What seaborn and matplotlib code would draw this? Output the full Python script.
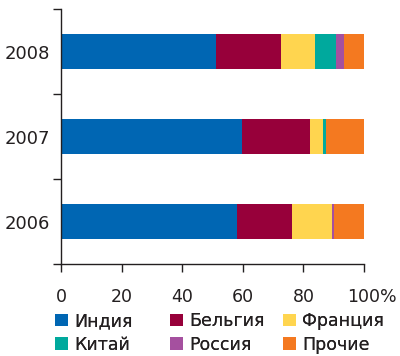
import numpy as np
import pandas as pd
import seaborn as sns
import matplotlib
matplotlib.use("Agg")
import matplotlib.pyplot as plt
from matplotlib.patches import Patch
from matplotlib.transforms import ScaledTranslation

# ---- data ----
years = ['2008', '2007', '2006']
india = [51.2, 59.6, 58.0]
belgium = [21.3, 22.7, 18.2]
france = [11.3, 4.3, 13.2]
china = [7.0, 0.7, 0.0]
russia = [2.5, 0.0, 0.7]
others = [6.7, 12.7, 9.9]
series_names = ['Индия', 'Бельгия', 'Франция', 'Китай', 'Россия', 'Прочие']
colors = ['#0066b3', '#97003a', '#ffd54f', '#00a99d', '#a5509f', '#f47920']
x_ticks = [0, 20, 40, 60, 80, 100]
x_labels = ['0', '20', '40', '60', '80', '100%']

sns.set_style('white')
plt.rcParams['font.family'] = ['DejaVu Sans']
TXT = '#231f20'

df = pd.DataFrame({'year': years, 'Индия': india, 'Бельгия': belgium,
                   'Франция': france, 'Китай': china, 'Россия': russia,
                   'Прочие': others})
cum = df[series_names].cumsum(axis=1)

fig = plt.figure(figsize=(4.0, 3.56), dpi=100)
ax = fig.add_axes([61/400, 1-264/356, (364-61)/400, (264-9)/356])

for name, col in reversed(list(zip(series_names, colors))):
    sns.barplot(x=cum[name], y=df['year'], order=years, orient='h',
                color=col, saturation=1, width=0.41, linewidth=0, ax=ax)

ax.set_xlim(0, 100)
ax.set_ylim(2.5, -0.5)
ax.set_xlabel('')
ax.set_ylabel('')
for s in ['top', 'right']:
    ax.spines[s].set_visible(False)
for s in ['left', 'bottom']:
    ax.spines[s].set_color(TXT)
    ax.spines[s].set_linewidth(1.0)

ax.set_xticks(x_ticks)
ax.set_xticklabels(x_labels)
ax.tick_params(axis='x', which='major', bottom=True, direction='out', length=5.5,
               width=1, color=TXT, labelsize=12.5, labelcolor=TXT, pad=12)
ax.set_yticks(range(len(years)))
ax.set_yticklabels(years)
ax.tick_params(axis='y', which='major', left=True, length=0, pad=8,
               labelsize=13, labelcolor=TXT)
ax.set_yticks([-0.5, 0.5, 1.5, 2.5], minor=True)
ax.tick_params(axis='y', which='minor', left=True, direction='out', length=6,
               width=1, color=TXT)

lab = ax.get_xticklabels()[-1]
lab.set_horizontalalignment('left')
lab.set_transform(lab.get_transform() + ScaledTranslation(-17/100, 0, fig.dpi_scale_trans))

# legend: three columns placed at their own x positions
col_x = [55, 170, 283]
for c in range(3):
    hs = [Patch(facecolor=colors[i], edgecolor='none', label=series_names[i])
          for i in (c, c + 3)]
    leg = fig.legend(handles=hs, loc='upper left',
                     bbox_to_anchor=(col_x[c]/400, 1-312/356),
                     ncol=1, frameon=False, fontsize=12.5, handlelength=0.75,
                     handleheight=0.75, handletextpad=0.35,
                     labelspacing=0.33, borderaxespad=0, borderpad=0,
                     labelcolor=TXT)
    fig.add_artist(leg)

fig.savefig('out.png', dpi=100)
